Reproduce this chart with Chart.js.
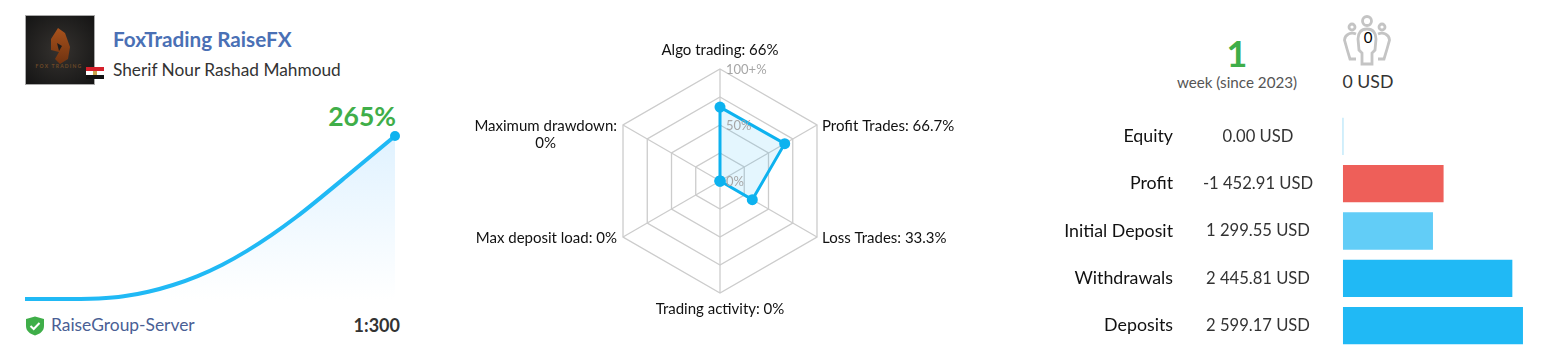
<!DOCTYPE html>
<html><head><meta charset="utf-8">
<script src="https://cdn.jsdelivr.net/npm/chart.js@4/dist/chart.umd.min.js"></script>
<style>
html,body{margin:0;padding:0;background:#fff;width:1542px;height:362px;overflow:hidden;font-family:"Lato",sans-serif}
.t{position:absolute;white-space:nowrap;line-height:1;transform:translateY(-50%)}
.c{transform:translate(-50%,-50%)}
.r{transform:translate(-100%,-50%)}
canvas{position:absolute}
</style></head><body>
<svg style="position:absolute;left:25px;top:15px" width="85" height="72" viewBox="0 0 85 72">
<defs><radialGradient id="g" cx=".5" cy=".5" r=".7"><stop offset="0" stop-color="#35322f"/><stop offset="1" stop-color="#141414"/></radialGradient>
<linearGradient id="f" x1="0" y1="0" x2="0" y2="1"><stop offset="0" stop-color="#a8521c"/><stop offset="1" stop-color="#6e3210"/></linearGradient></defs>
<rect x=".5" y=".5" width="69" height="69" fill="url(#g)" stroke="#a9a9a9"/>
<path d="M33 13 L40 18 L45 32 L43 44 L35 49 L30 44 L34 37 L26 35 L26 24 Z" fill="url(#f)"/>
<path d="M32 28 L37 31 L34 36 Z" fill="#1c1c1c"/>
<text x="34" y="50" font-family="Lato" font-size="5" font-weight="700" letter-spacing="1.2" text-anchor="middle" fill="#6e4a28" dy="3">FOX TRADING</text>
<rect x="61" y="52" width="18" height="4" fill="#d5202b"/><rect x="61" y="56" width="18" height="4" fill="#fff"/><rect x="68" y="56" width="4" height="4" fill="#c9a44c"/><rect x="61" y="60" width="18" height="4" fill="#111"/>
</svg>
<div class="t" style="left:113px;top:39px;font-size:20.7px;font-weight:700;color:#4a70b5">FoxTrading RaiseFX</div>
<div class="t" style="left:113px;top:70px;font-size:17.3px;color:#333">Sherif Nour Rashad Mahmoud</div>
<div class="t r" style="left:396px;top:116px;font-size:26.5px;font-weight:700;color:#3fae49">265%</div>
<svg style="position:absolute;left:25px;top:316px" width="20" height="20" viewBox="0 0 20 20"><path d="M10 .5 L19 3 V10 C19 15 15 18 10 19.5 C5 18 1 15 1 10 V3 Z" fill="#3fae49"/><path d="M5.5 10 L8.7 13 L14.5 7" stroke="#fff" stroke-width="2" fill="none"/></svg>
<div class="t" style="left:51px;top:325px;font-size:17.4px;color:#4a5f95">RaiseGroup-Server</div>
<div class="t r" style="left:400px;top:325px;font-size:18px;font-weight:700;color:#333">1:300</div>
<div class="t c" style="left:1237px;top:53px;font-size:36px;font-weight:700;color:#3fae49">1</div>
<div class="t c" style="left:1237px;top:83px;font-size:15.2px;color:#555">week (since 2023)</div>
<svg style="position:absolute;left:1343px;top:15px" width="50" height="52" viewBox="0 0 50 52" fill="none" stroke="#c4c4c4" stroke-width="2.8">
<circle cx="9" cy="12" r="3"/><circle cx="39" cy="12" r="3"/><circle cx="24" cy="6" r="4.5"/>
<path d="M13 19 C8 17 2 19 1.5 25 L4 34 L7 44 L13 44"/><path d="M35 19 C40 17 46 19 46.5 25 L44 34 L41 44 L35 44"/>
<path d="M24 14 C18 14 15 18 15 24 L16 35 L19 38 L19 49 L29 49 L29 38 L32 35 L33 24 C33 18 30 14 24 14 Z"/>
</svg>
<div class="t c" style="left:1368px;top:37px;font-size:15px;color:#000">0</div>
<div class="t c" style="left:1368px;top:82px;font-size:17.7px;color:#333">0 USD</div>
<canvas id="line" style="left:15px;top:126px;width:390px;height:183px"></canvas>
<canvas id="radar" style="left:420px;top:30px;width:600px;height:302px"></canvas>
<canvas id="bars" style="left:1040px;top:94px;width:502px;height:274px"></canvas>
<script>
const gainX=["w1","w2","w3","w4","w5","w6","w7","w8","w9","w10","w11","w12","w13","w14","w15","w16"];
const gainPct=[0,0,0,0.8,4.3,11.8,22.8,37.3,55.8,78.3,104.3,133.3,165.3,198.3,231.8,265];
const radarNames=[["Algo trading: 66%"],["Profit Trades: 66.7%"],["Loss Trades: 33.3%"],["Trading activity: 0%"],["Max deposit load: 0%"],["Maximum drawdown:","0%"]];
const radarValues=[66,66.7,33.3,0,0,0];
const radarTickValues=[0,50,100];
const radarTickLabels=["0%","50%","100+%"];
const barNames=["Equity","Profit","Initial Deposit","Withdrawals","Deposits"];
const barValues=[0,1452.91,1299.55,2445.81,2599.17];
const barText=["0.00 USD","-1 452.91 USD","1 299.55 USD","2 445.81 USD","2 599.17 USD"];
const barColors=["#a6dff7","#ee5f59","#62cdf7","#20b9f5","#20b9f5"];
const FONT="Lato";
Chart.defaults.animation=false;
Chart.defaults.responsive=false;
function sz(id){const c=document.getElementById(id),s=c.style;c.width=parseInt(s.width);c.height=parseInt(s.height);return c;}

new Chart(sz("line"),{type:"line",data:{labels:gainX,datasets:[{data:gainPct,borderColor:"#20b9f5",borderWidth:4,tension:.4,
 fill:"origin",clip:false,
 backgroundColor:(ctx)=>{const a=ctx.chart.chartArea;if(!a)return "#fff";const g=ctx.chart.ctx.createLinearGradient(0,a.top,0,a.bottom);g.addColorStop(0,"#e0f2ff");g.addColorStop(1,"#ffffff");return g;},
 pointRadius:gainPct.map((v,i)=>i===gainPct.length-1?5:0),pointBackgroundColor:"#0db2ef",pointBorderWidth:0}]},
 options:{layout:{padding:10},plugins:{legend:{display:false},tooltip:{enabled:false}},
 scales:{x:{display:false},y:{display:false,min:0,max:265}}}});

const radarText={id:"radarText",afterDatasetsDraw(c){const s=c.scales.r,x=c.ctx;x.save();x.font="13px "+FONT;x.fillStyle="#a6a6a6";x.textBaseline="middle";x.textAlign="left";
 radarTickValues.forEach((v,i)=>{const p=s.getPointPositionForValue(0,v);x.fillText(radarTickLabels[i],p.x+6,p.y+1);});
 x.font="15px "+FONT;x.fillStyle="#111";
 radarNames.forEach((lines,i)=>{const p=s.getPointPositionForValue(i,100);let tx=p.x,ty=p.y+1,lh=17;
  x.textAlign="center";
  if(i===0)ty-=20;else if(i===3)ty+=15;
  else if(i<3)tx+=5;
  else tx-=6;
  const w=Math.max(...lines.map(l=>x.measureText(l).width));
  if(i===1||i===2)tx+=w/2;if(i===4||i===5)tx-=w/2;
  lines.forEach((l,k)=>x.fillText(l,tx,ty+k*lh));});
 x.restore();}};
new Chart(sz("radar"),{type:"radar",data:{labels:radarNames.map(l=>l.join(" ")),datasets:[{data:radarValues,borderColor:"#0db2ef",borderWidth:3,backgroundColor:"rgba(32,185,245,.12)",pointRadius:5.5,pointBackgroundColor:"#0db2ef",pointBorderWidth:0}]},
 options:{layout:{padding:39},plugins:{legend:{display:false},tooltip:{enabled:false}},
 scales:{r:{min:0,max:100,ticks:{display:false,stepSize:25},grid:{color:"#cccccc",lineWidth:1.3},angleLines:{color:"#cccccc",lineWidth:1.3},
 pointLabels:{display:false}}}},plugins:[radarText]});

const barVals={id:"barVals",afterDraw(c){const y=c.scales.y,x=c.ctx;x.save();x.font="16.6px "+FONT;x.fillStyle="#333";x.textAlign="center";x.textBaseline="middle";
 barText.forEach((t,i)=>x.fillText(t,1258-1040,y.getPixelForValue(i)));x.restore();}};
new Chart(sz("bars"),{type:"bar",data:{labels:barNames,datasets:[{data:barValues,backgroundColor:barColors,minBarLength:1,barPercentage:1,categoryPercentage:.79}]},
 options:{indexAxis:"y",layout:{autoPadding:false},plugins:{legend:{display:false},tooltip:{enabled:false}},
 scales:{x:{display:false,min:-2339,max:2874},
 y:{afterFit(a){a.width=141;},grid:{display:false,drawTicks:false},border:{display:false},ticks:{padding:8,color:"#111",font:{family:FONT,size:17.8}}}}},plugins:[barVals]});
</script>
</body></html>
